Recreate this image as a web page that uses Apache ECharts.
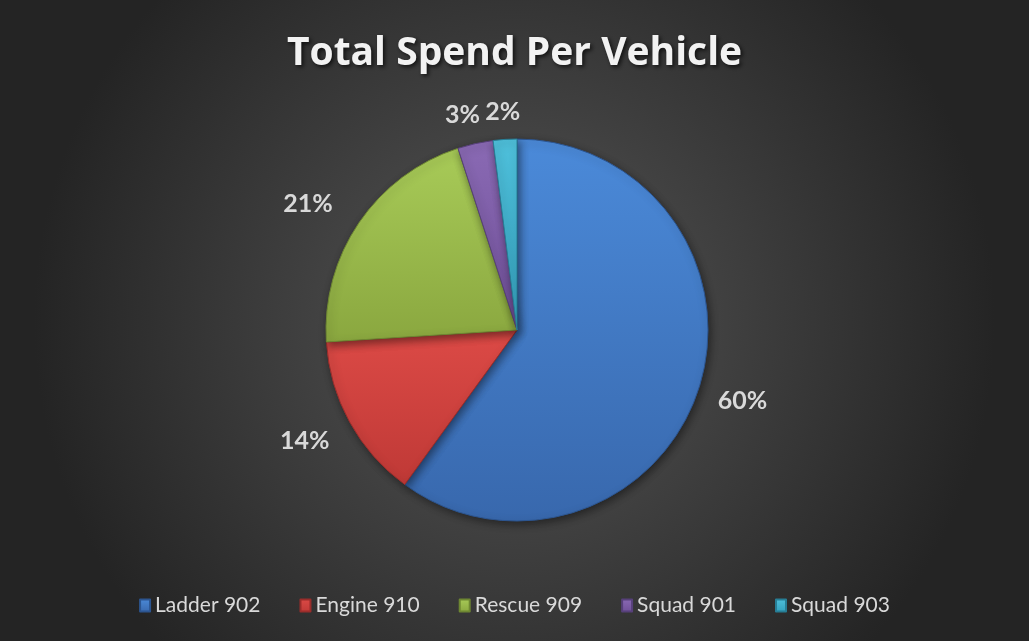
<!DOCTYPE html>
<html>
<head>
<meta charset="utf-8">
<script src="https://cdn.jsdelivr.net/npm/echarts@6/dist/echarts.min.js"></script>
<style>
  html, body { margin: 0; padding: 0; background: #2a2a2a; }
  #chart { width: 1029px; height: 641px; }
</style>
</head>
<body>
<div id="chart"></div>
<script>
// Share of total spend by vehicle (percent)
const vehicles = ['Ladder 902', 'Engine 910', 'Rescue 909', 'Squad 901', 'Squad 903'];
const spendShare = [60, 14, 21, 3, 2];
const sliceColors = [
  ['#4b8ad9', '#3868ad', '#2c5590'],
  ['#dc4a46', '#bf3936', '#9a2d2b'],
  ['#a8cb58', '#8aa73f', '#6e8732'],
  ['#8a6ab4', '#6f4f98', '#57407a'],
  ['#4fc0db', '#33a0bd', '#277e96']
];
// Outside-end label placement per slice: leader length and gap to text
const labelReach = [39, 39, 33, 29, 27];
const labelGap = [-18, -14, -1, -11, -17];

function sliceStyle(c) {
  return {
    color: {
      type: 'linear', x: 0, y: 0, x2: 0, y2: 1,
      colorStops: [{ offset: 0, color: c[0] }, { offset: 1, color: c[1] }]
    },
    borderColor: c[2],
    borderWidth: 1,
    shadowColor: 'rgba(0,0,0,0.45)',
    shadowBlur: 8,
    shadowOffsetX: 2,
    shadowOffsetY: 3
  };
}

const pieData = vehicles.map((name, i) => ({
  name,
  value: spendShare[i],
  itemStyle: sliceStyle(sliceColors[i]),
  label: { distanceToLabelLine: labelGap[i] },
  labelLine: { show: false, length: labelReach[i], length2: 0 }
}));

const chart = echarts.init(document.getElementById('chart'));
chart.setOption({
  backgroundColor: {
    type: 'radial', x: 0.5, y: 0.5, r: 0.75,
    colorStops: [
      { offset: 0, color: '#565656' },
      { offset: 1, color: '#242424' }
    ]
  },
  animation: false,
  title: {
    text: 'Total Spend Per Vehicle',
    left: 'center',
    top: 29,
    textStyle: {
      fontFamily: 'Open Sans',
      fontWeight: 'bold',
      fontSize: 39,
      color: '#f2f2f2',
      textShadowColor: 'rgba(0,0,0,0.7)',
      textShadowBlur: 4,
      textShadowOffsetX: 2,
      textShadowOffsetY: 2
    }
  },
  legend: {
    bottom: 20,
    left: 'center',
    icon: 'rect',
    itemWidth: 10,
    itemHeight: 12,
    itemGap: 39,
    data: vehicles,
    textStyle: {
      fontFamily: 'Lato',
      fontSize: 21,
      color: '#d9d9d9'
    }
  },
  series: [{
    type: 'pie',
    center: [517, 330],
    radius: 191,
    startAngle: 90,
    clockwise: true,
    avoidLabelOverlap: false,
    data: pieData,
    label: {
      show: true,
      position: 'outside',
      formatter: '{c}%',
      fontFamily: 'Lato',
      fontWeight: 'bold',
      fontSize: 25,
      color: '#d9d9d9'
    },
    labelLine: { show: false },
    emphasis: { disabled: true }
  }]
});
</script>
</body>
</html>
